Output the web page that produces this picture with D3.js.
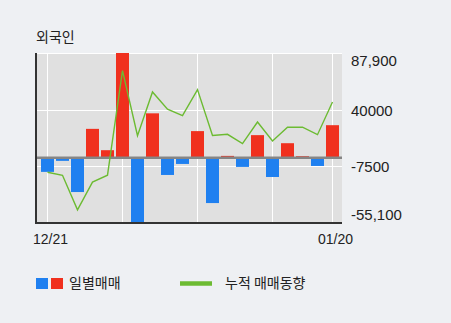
<!DOCTYPE html>
<html>
<head>
<meta charset="utf-8">
<script src="https://cdn.jsdelivr.net/npm/d3@7/dist/d3.min.js"></script>
<style>
  html, body { margin: 0; padding: 0; background: #eef0f3; }
  svg { display: block; }
</style>
</head>
<body>
<svg></svg>
<script>
// 날짜 (12/21 ~ 01/20 거래일)
var dates = ["12/21","12/22","12/23","12/24","12/28","12/29","12/30",
             "01/04","01/05","01/06","01/07","01/08","01/11","01/12",
             "01/13","01/14","01/15","01/18","01/19","01/20"];
// 일별매매
var daily = [-12400, -3100, -29400, 23900, 5900, 87900, -55100, 37000, -15000, -5700,
             22000, -38700, 1100, -8200, 18600, -16700, 11800, 850, -7400, 27000];
// 누적 매매동향
var cumul = [-12700, -15300, -44400, -21000, -15200, 73000, 18200, 55000, 40500, 35000,
             57000, 18300, 19300, 11500, 29700, 13700, 25300, 25400, 19000, 46500];
var yTicks = [87900, 40000, -7500, -55100];
var yTickLabels = ["87,900", "40000", "-7500", "-55,100"];
var xTickIdx = [0, 19];
var gridIdx = [0, 5, 10, 15, 19];

var width = 451, height = 323;
var plot = {left: 37, right: 342, top: 53, bottom: 223};

var svg = d3.select("svg").attr("width", width).attr("height", height);

var x = d3.scaleBand()
    .domain(d3.range(dates.length))
    .range([40, 340])
    .paddingInner(2 / 15)
    .paddingOuter(1 / 15);

var y = d3.scaleLinear()
    .domain([-55100, 87900])
    .range([222.5, 53]);

var cx = function(i) { return x(i) + x.bandwidth() / 2 };

// title
svg.append("text")
    .attr("x", 36).attr("y", 42)
    .attr("font-family", "Noto Sans CJK KR")
    .attr("font-size", 14)
    .attr("fill", "#222")
    .text("외국인");

// plot background
svg.append("rect")
    .attr("x", plot.left).attr("y", plot.top)
    .attr("width", plot.right - plot.left)
    .attr("height", plot.bottom - plot.top)
    .attr("fill", "#e0e0e0");

// grid lines
svg.append("g")
  .selectAll("line.h")
  .data(yTicks.slice(0, 3))
  .enter().append("line")
    .attr("x1", plot.left).attr("x2", plot.right)
    .attr("y1", function(d) { return Math.round(y(d)) + 0.5 })
    .attr("y2", function(d) { return Math.round(y(d)) + 0.5 })
    .attr("stroke", "#fff").attr("stroke-width", 1);

svg.append("g")
  .selectAll("line.v")
  .data(gridIdx)
  .enter().append("line")
    .attr("x1", function(d) { return cx(d) })
    .attr("x2", function(d) { return cx(d) })
    .attr("y1", plot.top).attr("y2", plot.bottom)
    .attr("stroke", "#fff").attr("stroke-width", 1);

// bars
svg.append("g")
  .selectAll("rect")
  .data(daily)
  .enter().append("rect")
    .attr("x", function(d, i) { return x(i) })
    .attr("width", x.bandwidth())
    .attr("y", function(d) { return d > 0 ? y(d) : y(0) })
    .attr("height", function(d) { return Math.abs(y(d) - y(0)) })
    .attr("fill", function(d) { return d > 0 ? "#f0301e" : "#1f80f0" });

// zero line
svg.append("line")
    .attr("x1", plot.left).attr("x2", plot.right)
    .attr("y1", y(0) + 0.5).attr("y2", y(0) + 0.5)
    .attr("stroke", "#858585").attr("stroke-width", 2.5);

// cumulative line
var line = d3.line()
    .x(function(d, i) { return cx(i) })
    .y(function(d) { return y(d) });

svg.append("path")
    .datum(cumul)
    .attr("d", line)
    .attr("fill", "none")
    .attr("stroke", "#6cbb32")
    .attr("stroke-width", 1.4);

// axes lines
svg.append("line")
    .attr("x1", 36).attr("x2", 36)
    .attr("y1", plot.top).attr("y2", plot.bottom + 1)
    .attr("stroke", "#333").attr("stroke-width", 2);
svg.append("line")
    .attr("x1", 35).attr("x2", plot.right)
    .attr("y1", plot.bottom).attr("y2", plot.bottom)
    .attr("stroke", "#333").attr("stroke-width", 2);

// y axis labels (right)
var yAxis = d3.axisRight(y)
    .tickValues(yTicks)
    .tickSize(0)
    .tickPadding(0)
    .tickFormat(function(d, i) { return yTickLabels[i] });

var gy = svg.append("g")
    .attr("transform", "translate(351,0)")
    .call(yAxis);
gy.select(".domain").remove();
gy.selectAll("text")
    .attr("font-family", "Liberation Sans, Arial, sans-serif")
    .attr("font-size", 15)
    .attr("fill", "#222")
    .attr("dy", function(d, i) {
      if (i == 0) return "0.82em";
      if (i == yTicks.length - 1) return "-0.2em";
      return "0.35em";
    });

// x axis labels
var xAxis = d3.axisBottom(x)
    .tickValues(xTickIdx)
    .tickSize(0)
    .tickPadding(0)
    .tickFormat(function(d) { return dates[d] });

var gx = svg.append("g")
    .attr("transform", "translate(3,234)")
    .call(xAxis);
gx.select(".domain").remove();
gx.selectAll("text")
    .attr("font-family", "Liberation Sans, Arial, sans-serif")
    .attr("font-size", 14)
    .attr("fill", "#222");

// legend
var legend = svg.append("g").attr("font-family", "Noto Sans CJK KR").attr("font-size", 14).attr("fill", "#222");
legend.append("rect").attr("x", 36).attr("y", 278).attr("width", 12).attr("height", 11).attr("fill", "#1f80f0");
legend.append("rect").attr("x", 51).attr("y", 278).attr("width", 12).attr("height", 11).attr("fill", "#f0301e");
legend.append("text").attr("x", 69).attr("y", 288).text("일별매매");
legend.append("line").attr("x1", 180).attr("x2", 212).attr("y1", 283.5).attr("y2", 283.5)
    .attr("stroke", "#6cbb32").attr("stroke-width", 4.5);
legend.append("text").attr("x", 225).attr("y", 288).text("누적 매매동향");
</script>
</body>
</html>
